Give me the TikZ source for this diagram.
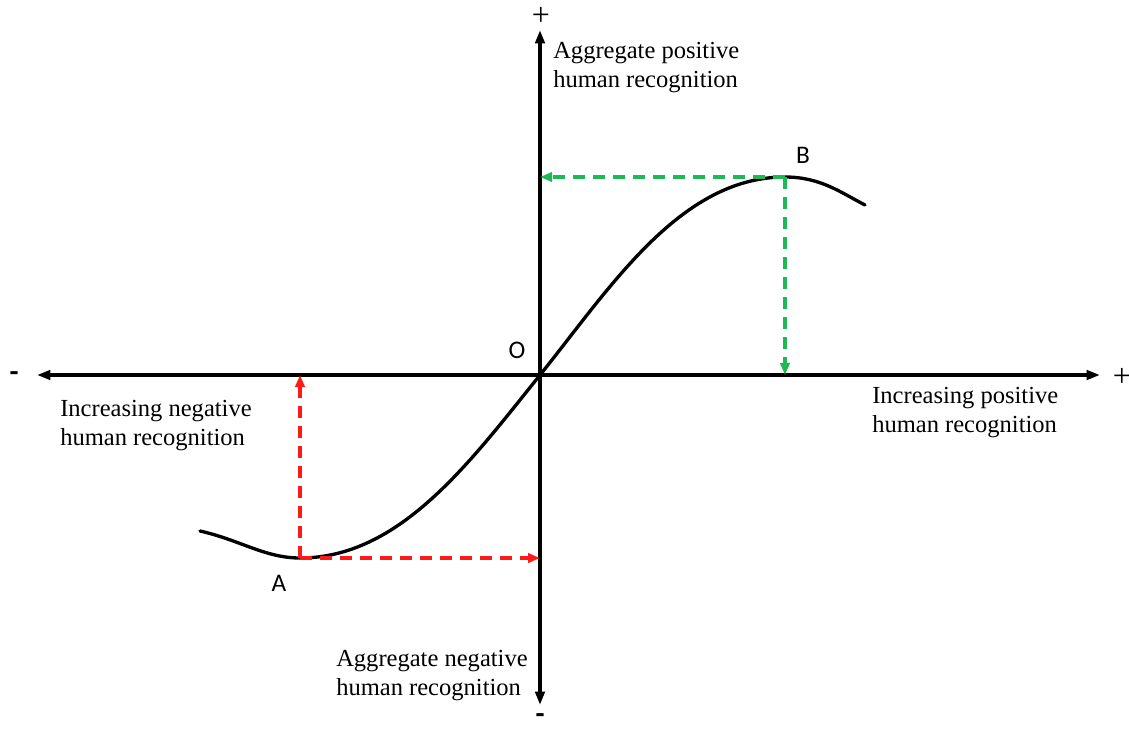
\documentclass[tikz,border=0pt]{standalone}
\usepackage{fontspec}
\setmainfont{Liberation Serif}
\newfontfamily\labfont{Carlito}
\usetikzlibrary{arrows.meta, positioning}
\definecolor{myred}{HTML}{FF1A1A}
\definecolor{mygreen}{HTML}{1DB954}

\begin{document}
\begin{tikzpicture}[x=0.75pt, y=-0.75pt,
  axis/.style={{Triangle[length=10pt,width=7pt]}-{Triangle[length=10pt,width=7pt]}, line width=2.5pt},
  curve/.style={line width=2.5pt, line cap=round},
  guide/.style={-{Triangle[length=9pt,width=7pt]}, line width=2.6pt, dash pattern=on 9pt off 6pt},
  txt/.style={font=\fontsize{18.4}{21.8}\selectfont, align=left, anchor=north west, inner sep=0pt},
  pt/.style={font=\labfont\fontsize{19}{22}\selectfont, inner sep=0pt},
  sgn/.style={font=\labfont\bfseries\fontsize{22}{24}\selectfont, inner sep=0pt},
  plus/.style={font=\fontsize{24}{26}\selectfont, inner sep=0pt}
]
\useasboundingbox (0,0) rectangle (1129,733);

% points
\coordinate (O) at (540,375);
\coordinate (A) at (300,558);
\coordinate (B) at (785,177);
\coordinate (xl) at (37,375);
\coordinate (xr) at (1100,375);
\coordinate (yt) at (540,30);
\coordinate (yb) at (540,705);

% axes
\draw[axis] (xl) -- (xr);
\draw[axis] (yb) -- (yt);
\node[sgn] (xminus) at (14,377) {-};
\node[plus] (xplus) at (1122,377) {+};
\node[plus] (yplus) at (541,16) {+};
\node[sgn] (yminus) at (540,719) {-};

% curve
\draw[curve] (200,531) .. controls (240,540) and (265,558) .. (A)
  .. controls (400,558) and (470,462) .. (O)
  .. controls (610,288) and (680,177) .. (B)
  .. controls (820,177) and (840,192) .. (865,205);

% projections
\draw[guide, myred] (A) -- (A |- O);
\draw[guide, myred] (A) -- (O |- A);
\draw[guide, mygreen] (B) -- (O |- B);
\draw[guide, mygreen] (B) -- (B |- O);

% labels
\node[pt] (olab) at (517,350) {O};
\node[pt] (alab) at (279,583) {A};
\node[pt] (blab) at (803,155) {B};
\node[txt] (ypos) at (553,42) {Aggregate positive\\human recognition};
\node[txt] (xneg) at (60,400) {Increasing negative\\human recognition};
\node[txt] (xpos) at (872,387) {Increasing positive\\human recognition};
\node[txt] (yneg) at (336,650) {Aggregate negative\\human recognition};
\end{tikzpicture}
\end{document}
